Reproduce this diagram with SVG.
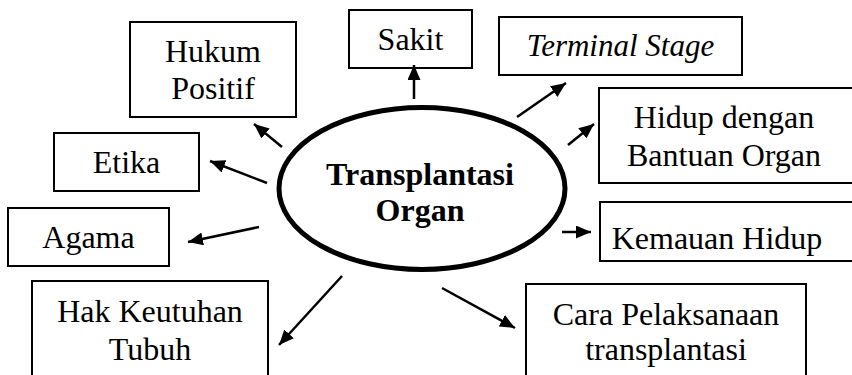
<svg xmlns="http://www.w3.org/2000/svg" width="852" height="375" viewBox="0 0 852 375">
<style>
.box{fill:#fff;stroke:#000;stroke-width:2}
.t{font-family:"Liberation Serif","Times New Roman",Times,serif;font-size:32px;fill:#000;text-anchor:middle}
.b{font-weight:bold;font-size:32px}
.i{font-style:italic;font-size:31px}
.c{stroke:#000;stroke-width:2.5;fill:none;marker-end:url(#ah)}
</style>
<defs>
<marker id="ah" markerUnits="userSpaceOnUse" markerWidth="16" markerHeight="13" refX="15" refY="6.5" orient="auto">
<path d="M0,0 L15,6.5 L0,13 Z" fill="#000"/>
</marker>
</defs>
<rect width="852" height="375" fill="#fff"/>
<g id="center">
<ellipse cx="422" cy="188.5" rx="143" ry="81" fill="#fff" stroke="#000" stroke-width="5"/>
<text class="t b" x="420" y="185">Transplantasi</text>
<text class="t b" x="420" y="221">Organ</text>
</g>
<g id="hukum"><rect class="box" x="130" y="22" width="166" height="95"/><text class="t" x="213" y="62">Hukum</text><text class="t" x="213" y="99">Positif</text></g>
<g id="etika"><rect class="box" x="54" y="133" width="145" height="58"/><text class="t" x="126.5" y="173">Etika</text></g>
<g id="agama"><rect class="box" x="8" y="208" width="161" height="58"/><text class="t" x="88.5" y="248">Agama</text></g>
<g id="hak"><rect class="box" x="32" y="281" width="236" height="100"/><text class="t" x="150" y="322">Hak Keutuhan</text><text class="t" x="150" y="360">Tubuh</text></g>
<g id="sakit"><rect class="box" x="349" y="10" width="123" height="58"/><text class="t" x="410.5" y="50">Sakit</text></g>
<g id="terminal"><rect class="box" x="499" y="17" width="243" height="58"/><text class="t i" x="620.5" y="56">Terminal Stage</text></g>
<g id="hidup"><rect class="box" x="599" y="88" width="260" height="95"/><text class="t" x="724" y="128">Hidup dengan</text><text class="t" x="724" y="166">Bantuan Organ</text></g>
<g id="kemauan"><rect class="box" x="600" y="202" width="260" height="59"/><text class="t" x="717" y="249">Kemauan Hidup</text></g>
<g id="cara"><rect class="box" x="526" y="284" width="280" height="100"/><text class="t" x="666" y="325">Cara Pelaksanaan</text><text class="t" x="666" y="360">transplantasi</text></g>
<g id="connectors">
<line class="c" x1="414" y1="99" x2="414" y2="65"/>
<line class="c" x1="282" y1="147" x2="254" y2="124"/>
<line class="c" x1="267" y1="183" x2="210" y2="161"/>
<line class="c" x1="259" y1="227" x2="188" y2="242"/>
<line class="c" x1="342" y1="276" x2="279" y2="345"/>
<line class="c" x1="517" y1="117" x2="566" y2="83"/>
<line class="c" x1="568" y1="145" x2="594" y2="124"/>
<line class="c" x1="562" y1="232" x2="591" y2="232"/>
<line class="c" x1="442" y1="288" x2="515" y2="328"/>
</g>
</svg>
